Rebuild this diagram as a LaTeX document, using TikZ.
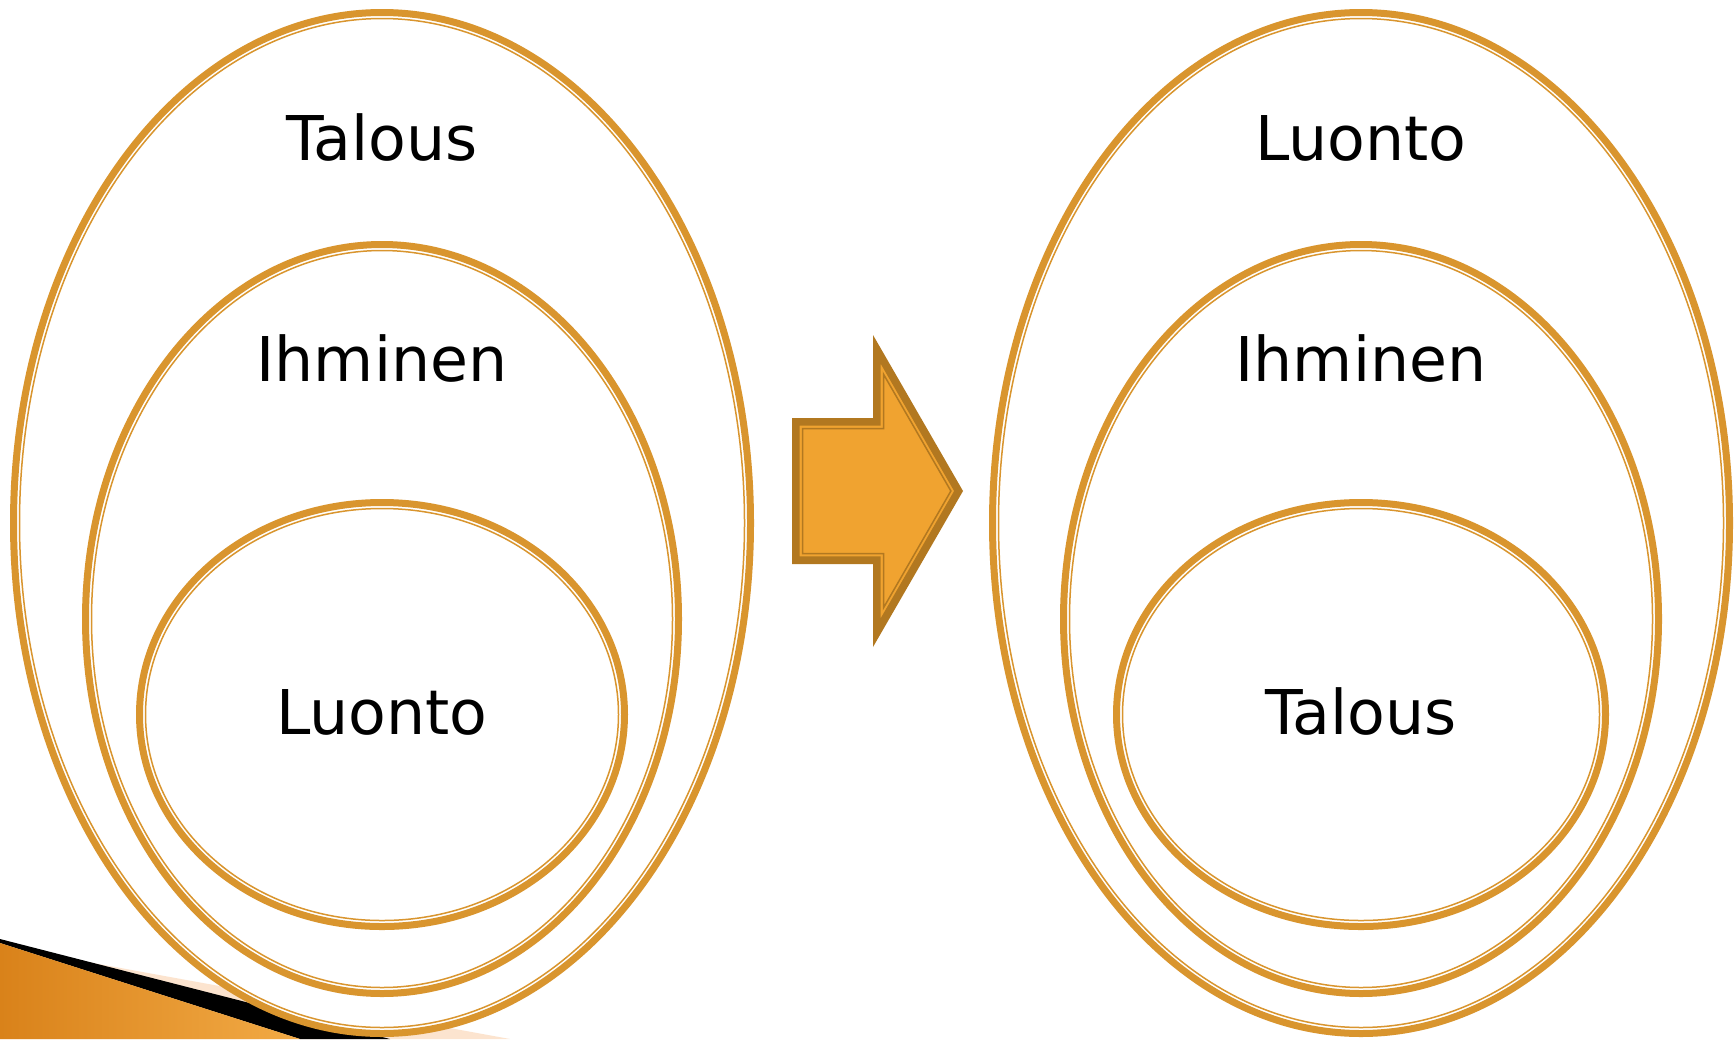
\documentclass[tikz,border=0pt]{standalone}
\usepackage{fontspec}
\setmainfont{DejaVu Sans}
\definecolor{ring}{HTML}{D9952E}
\definecolor{arrowfill}{HTML}{F0A330}
\definecolor{arrowline}{HTML}{B27820}
\definecolor{peach}{HTML}{FCE4CF}
\definecolor{orangeA}{HTML}{D9821A}
\definecolor{orangeB}{HTML}{F2AA45}
\tikzset{
  ringthick/.style={draw=ring, line width=7pt, fill=white},
  ringthin/.style={draw=ring, line width=1.5pt},
  lbl/.style={font=\fontsize{61.7}{74}\selectfont, anchor=base, inner sep=0pt, text=black},
  arrowouter/.style={draw=arrowline, line width=7.7pt, fill=arrowfill, line join=miter},
  arrowinner/.style={draw=arrowline, line width=1.5pt, line join=miter},
}
% #1 cx, #2 cy, #3 rx (outer edge), #4 ry (outer edge)
\newcommand\ringshape[4]{%
  \path[ringthick] (#1,#2) ellipse [x radius={(#3-3.5)*1pt}, y radius={(#4-3.5)*1pt}];
  \path[ringthin] (#1,#2) ellipse [x radius={(#3-9.5)*1pt}, y radius={(#4-9.5)*1pt}];
}
\newcommand\arrowpath[1]{({792+#1},{418+#1}) -- ({873+#1},{418+#1}) -- ({873+#1},{335+3.734*#1}) -- ({963-1.1547*#1},491) -- ({873+#1},{647-3.734*#1}) -- ({873+#1},{564-#1}) -- ({792+#1},{564-#1}) -- cycle}
\begin{document}
\begin{tikzpicture}[x=1pt, y=-1pt]
\useasboundingbox (0,0) rectangle (1736,1039);
\clip (0,0) rectangle (1736,1039);
\fill[white] (0,0) rectangle (1736,1039);
% corner decoration
\fill[peach] (0,946) -- (510,1039) -- (0,1039) -- cycle;
\fill[black] (0,939) -- (390,1039) -- (300,1039) -- (0,943) -- cycle;
\shade[left color=orangeA, right color=orangeB] (0,943) -- (300,1039) -- (0,1039) -- cycle;
% left rings
\ringshape{382}{523}{372}{514}
\ringshape{382}{619}{300}{378}
\ringshape{382}{714.5}{246}{215.5}
% right rings
\ringshape{1361}{523}{372}{514}
\ringshape{1361}{619}{301}{378}
\ringshape{1361}{714.5}{248}{215.5}
% arrow
\draw[arrowouter] \arrowpath{3.85};
\draw[arrowinner] \arrowpath{10.5};
% labels
\node[lbl] (lt) at (382,160) {Talous};
\node[lbl] (li) at (382,381) {Ihminen};
\node[lbl] (ll) at (382,734) {Luonto};
\node[lbl] (rl) at (1361,160) {Luonto};
\node[lbl] (ri) at (1361,381) {Ihminen};
\node[lbl] (rt) at (1361,734) {Talous};
\end{tikzpicture}
\end{document}
